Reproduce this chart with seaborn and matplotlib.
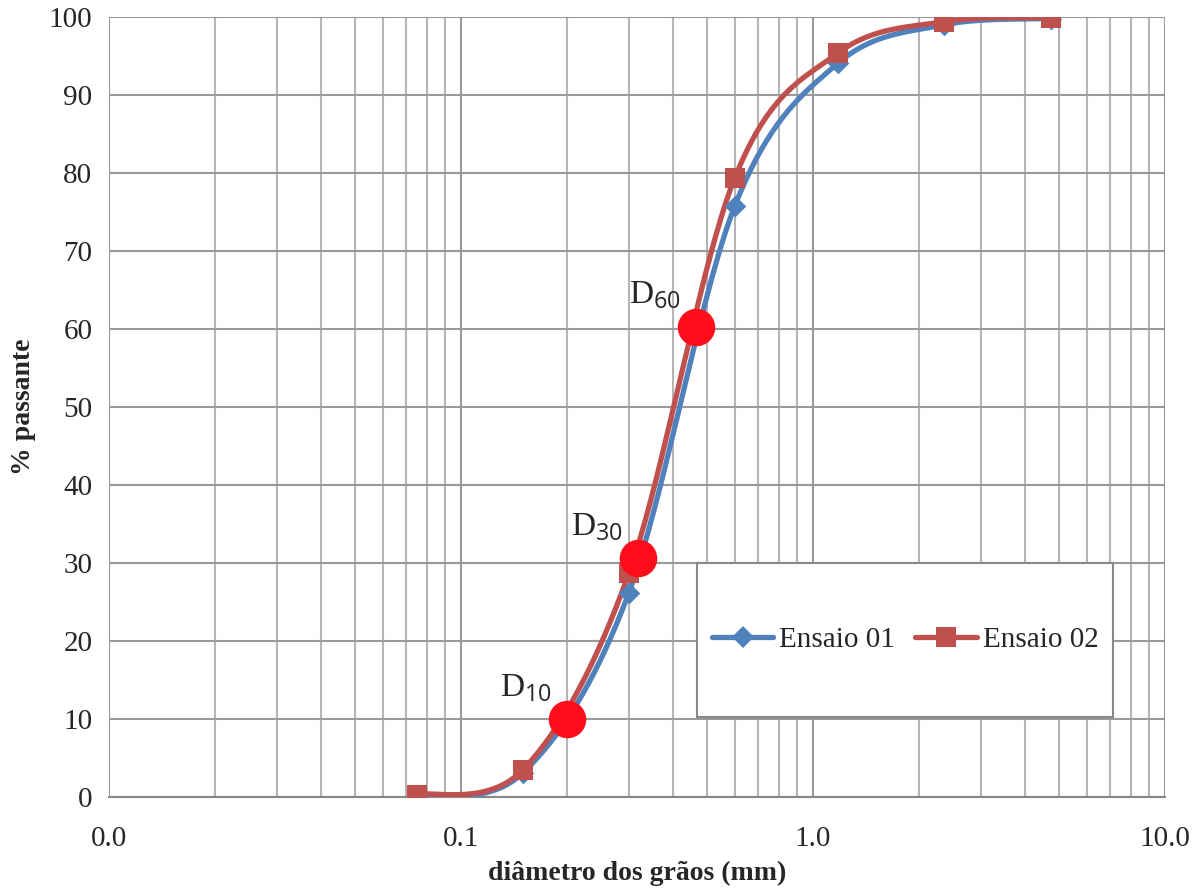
import numpy as np
import pandas as pd
import matplotlib
matplotlib.use("Agg")
import matplotlib.pyplot as plt
from matplotlib.lines import Line2D
from matplotlib.patches import Rectangle
from matplotlib.ticker import FixedLocator, LogLocator, NullFormatter
import seaborn as sns

# ---- data ----
sieves_mm = [0.075, 0.15, 0.3, 0.6, 1.18, 2.36, 4.75]
ensaio01 = [0.0, 3.1, 26.2, 75.8, 94.1, 99.0, 99.8]
ensaio02 = [0.3, 3.5, 28.7, 79.4, 95.4, 99.4, 99.9]
d_labels = ["10", "30", "60"]
d_diam = [0.20, 0.318, 0.466]
d_pass = [10.0, 30.6, 60.3]
x_ticks = [0.01, 0.1, 1.0, 10.0]
x_ticklabels = ["0.0", "0.1", "1.0", "10.0"]
y_ticks = [0, 10, 20, 30, 40, 50, 60, 70, 80, 90, 100]

sns.set_style("white")
plt.rcParams['font.family'] = ['Liberation Serif', 'DejaVu Serif']
plt.rcParams['mathtext.fontset'] = 'custom'
plt.rcParams['mathtext.rm'] = 'Liberation Serif'
plt.rcParams['mathtext.sf'] = 'Open Sans'

BLUE = "#4F81BD"
RED = "#C0504D"
DOT = "#FF0D1A"


def smooth(xs, ys, n=40):
    """Catmull-Rom style smoothing in (log x, y) space (like Excel's smoothed line)."""
    lx = np.log10(xs)
    ys = np.asarray(ys, float)
    px, py = [], []
    m = len(lx)
    for i in range(m - 1):
        x0, y0 = (lx[i - 1], ys[i - 1]) if i > 0 else (lx[i], ys[i])
        x1, y1 = lx[i], ys[i]
        x2, y2 = lx[i + 1], ys[i + 1]
        x3, y3 = (lx[i + 2], ys[i + 2]) if i + 2 < m else (lx[i + 1], ys[i + 1])
        c1x, c1y = x1 + (x2 - x0) / 6, y1 + (y2 - y0) / 6
        c2x, c2y = x2 - (x3 - x1) / 6, y2 - (y3 - y1) / 6
        t = np.linspace(0, 1, n)
        bx = (1 - t) ** 3 * x1 + 3 * (1 - t) ** 2 * t * c1x + 3 * (1 - t) * t ** 2 * c2x + t ** 3 * x2
        by = (1 - t) ** 3 * y1 + 3 * (1 - t) ** 2 * t * c1y + 3 * (1 - t) * t ** 2 * c2y + t ** 3 * y2
        px.extend(bx)
        py.extend(by)
    return 10 ** np.array(px), np.array(py)


fig = plt.figure(figsize=(12, 8.93), dpi=100)
ax = fig.add_axes([0.0908, 0.1075, 0.8800, 0.8735])

series = [("Ensaio 01", ensaio01, BLUE, "D", 11), ("Ensaio 02", ensaio02, RED, "s", 14)]
for name, vals, col, mk, ms in series:
    sx, sy = smooth(sieves_mm, vals)
    curve = pd.DataFrame({"x": sx, "y": sy})
    sns.lineplot(data=curve, x="x", y="y", sort=False, estimator=None, ax=ax,
                 color=col, lw=3.8, zorder=3, legend=False)
    pts = pd.DataFrame({"x": sieves_mm, "y": vals})
    sns.scatterplot(data=pts, x="x", y="y", ax=ax, color=col, marker=mk, s=ms ** 2,
                    linewidth=0, zorder=4, legend=False)

dp = pd.DataFrame({"x": d_diam, "y": d_pass})
sns.scatterplot(data=dp, x="x", y="y", ax=ax, color=DOT, s=27 ** 2, linewidth=0,
                zorder=6, legend=False)
for lab, dx, dy in zip(d_labels, d_diam, d_pass):
    ax.annotate(r"$\mathrm{D}_{\mathsf{" + lab + "}}$", (dx, dy), xytext=(-11, 11),
                textcoords="offset points", ha="right", va="bottom", fontsize=24, zorder=7)

ax.set_xscale("log")
ax.set_xlim(0.01, 10)
ax.set_ylim(0, 100)
ax.xaxis.set_major_locator(FixedLocator(x_ticks))
ax.set_xticklabels(x_ticklabels)
ax.xaxis.set_minor_locator(LogLocator(base=10, subs=np.arange(2, 10)))
ax.xaxis.set_minor_formatter(NullFormatter())
ax.set_yticks(y_ticks)
ax.tick_params(axis="x", which="major", length=7, width=1.2, color="#888888",
               labelsize=21, pad=14)
ax.tick_params(axis="x", which="minor", length=0)
ax.tick_params(axis="y", length=0, labelsize=21, pad=12)

ax.grid(True, which="major", color="#9A9A9A", lw=1.5, zorder=0)
ax.grid(True, which="minor", axis="x", color="#B5B5B5", lw=1.5, zorder=0)
ax.set_axisbelow(True)
for s in ["top", "right", "left"]:
    ax.spines[s].set_visible(False)
ax.spines["bottom"].set_color("#888888")
ax.spines["bottom"].set_linewidth(1.5)

ax.set_xlabel("diâmetro dos grãos (mm)", fontsize=20, fontweight="bold", labelpad=6)
ax.set_ylabel("% passante", fontsize=20, fontweight="bold")
ax.yaxis.set_label_coords(-0.069, 0.5)

# legend box
bx0, by0, bw, bh = 0.557, 0.1026, 0.394, 0.197
ax.add_patch(Rectangle((bx0, by0), bw, bh, transform=ax.transAxes, facecolor="white",
                       edgecolor="#888888", lw=1.5, zorder=8))
handles = [Line2D([], [], color=BLUE, lw=3.8, marker="D", ms=11, mew=0),
           Line2D([], [], color=RED, lw=3.8, marker="s", ms=14, mew=0)]
leg = ax.legend(handles, ["Ensaio 01", "Ensaio 02"], loc="center",
                bbox_to_anchor=(bx0, by0, bw, bh), ncol=2, frameon=False,
                fontsize=21, handlelength=2.1, handletextpad=0.2, columnspacing=0.7)
leg.set_zorder(9)

fig.savefig("out.png", dpi=100)
